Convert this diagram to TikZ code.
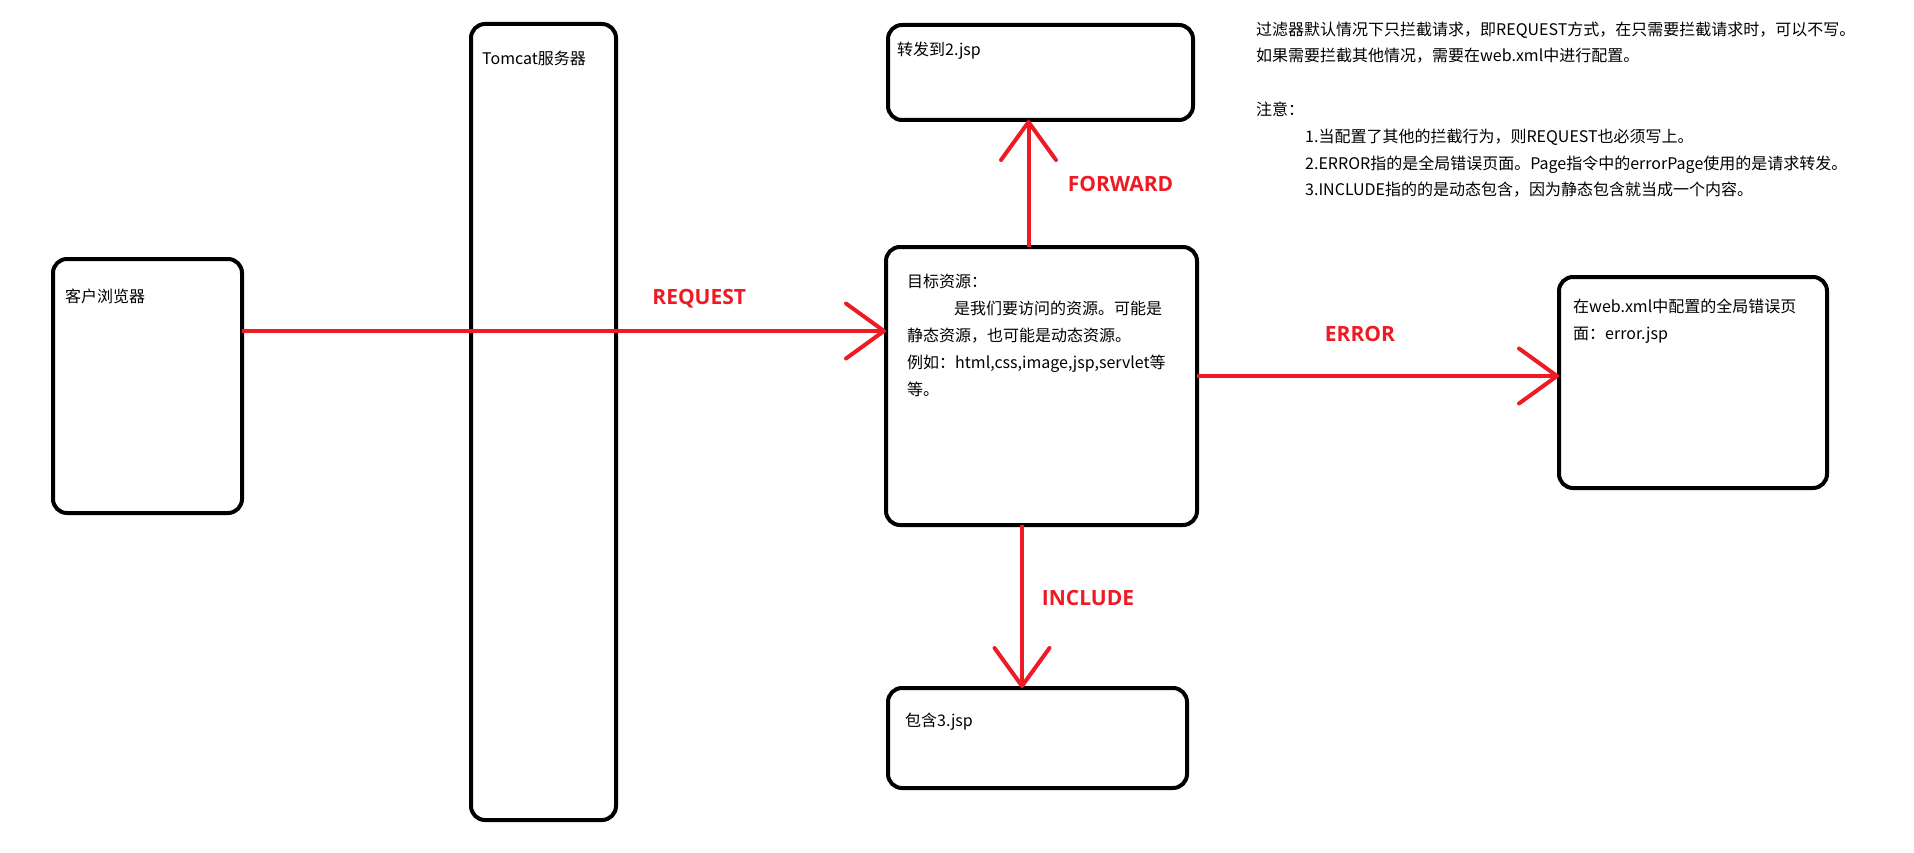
\documentclass[tikz,border=0pt]{standalone}
\usepackage{fontspec}
\setmainfont{Noto Sans CJK SC}
\newfontfamily\tagfont{Open Sans}
\usetikzlibrary{arrows.meta, positioning}
\definecolor{paintred}{RGB}{237, 28, 36}

\begin{document}
\begin{tikzpicture}[
    x=1pt, y=-1pt,
    box/.style={rectangle, draw=black, line width=4pt, rounded corners=14pt, inner sep=0pt, outer sep=0pt},
    txt/.style={font=\fontsize{16}{26.8}\selectfont, inner sep=0pt, align=left, anchor=base west},
    arrow/.style={-{Straight Barb[length=38pt, width=55pt, round]}, line width=4pt, paintred},
    tag/.style={font=\tagfont\bfseries\fontsize{21}{25}\selectfont, text=paintred, inner sep=0pt}
]
\useasboundingbox (0,0) rectangle (1914,853);

\node[box, minimum width=189pt, minimum height=254pt] (client) at (147.5,386) {};
\node[box, minimum width=145pt, minimum height=796pt] (tomcat) at (543.5,422) {};
\node[box, minimum width=311pt, minimum height=278pt] (target) at (1041.5,386) {};
\node[box, minimum width=305pt, minimum height=95pt] (fwd) at (1040.5,72.5) {};
\node[box, minimum width=299pt, minimum height=100pt] (incl) at (1037.5,738) {};
\node[box, minimum width=268pt, minimum height=211pt] (err) at (1693,382.5) {};

\node[txt] (tclient) at ([shift={(12,43)}]client.north west) {客户浏览器};
\node[txt] (ttomcat) at ([shift={(11,41)}]tomcat.north west) {Tomcat服务器};
\node[txt] (tfwd) at ([shift={(9,31)}]fwd.north west) {转发到2.jsp};
\node[txt] (ttarget) at ([shift={(21,148)}]target.north west) {目标资源：\\
  \hspace*{47pt}是我们要访问的资源。可能是\\
  静态资源，也可能是动态资源。\\
  例如：html,css,image,jsp,servlet等\\
  等。};
\node[txt] (tincl) at ([shift={(17,38)}]incl.north west) {包含3.jsp};
\node[txt] (terr) at ([shift={(14,62)}]err.north west) {在web.xml中配置的全局错误页\\面：error.jsp};

\node[txt] (notes) at (1256,196) {过滤器默认情况下只拦截请求，即REQUEST方式，在只需要拦截请求时，可以不写。\\
  如果需要拦截其他情况，需要在web.xml中进行配置。\\[26.8pt]
  注意：\\
  \hspace*{49pt}1.当配置了其他的拦截行为，则REQUEST也必须写上。\\
  \hspace*{49pt}2.ERROR指的是全局错误页面。Page指令中的errorPage使用的是请求转发。\\
  \hspace*{49pt}3.INCLUDE指的的是动态包含，因为静态包含就当成一个内容。};

\draw[arrow] ([yshift=55pt]client.east) -- ([yshift=55pt]target.west)
  node[tag, pos=0.71, yshift=32pt] (lreq) {REQUEST};
\draw[arrow] ([xshift=-13pt]target.north) -- ([xshift=-13pt]target.north |- fwd.south)
  node[tag, pos=0.5, xshift=92pt] (lfwd) {FORWARD};
\draw[arrow] ([xshift=-19.5pt]target.south) -- ([xshift=-19.5pt]target.south |- incl.north)
  node[tag, pos=0.45, xshift=66pt] (linc) {INCLUDE};
\draw[arrow] ([yshift=10pt]target.east) -- ([yshift=10pt]target.east -| err.west)
  node[tag, pos=0.45, yshift=42pt] (lerr) {ERROR};

\end{tikzpicture}
\end{document}
